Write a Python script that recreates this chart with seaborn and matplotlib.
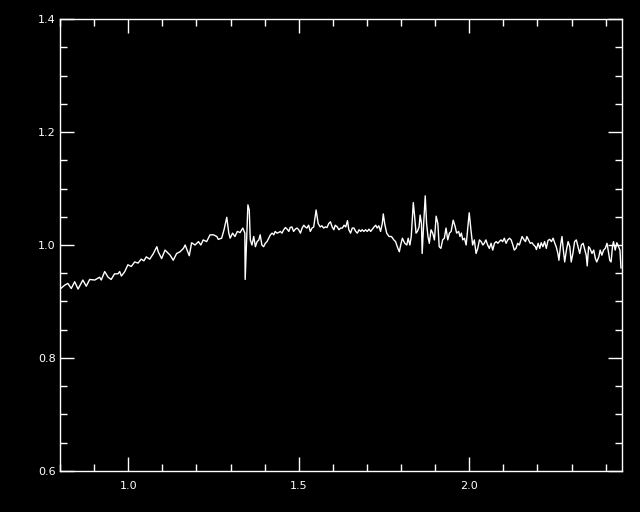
import matplotlib
matplotlib.use("Agg")
import matplotlib.pyplot as plt
from matplotlib.ticker import MultipleLocator
import seaborn as sns

# spectrum (wavelength, normalised flux)
wave = [
    0.802, 0.814, 0.823, 0.833, 0.843, 0.853, 0.867, 0.877, 0.887, 0.902,
    0.916, 0.921, 0.931, 0.941, 0.950, 0.960, 0.970, 0.975, 0.980, 0.990,
    0.999, 1.009, 1.019, 1.029, 1.038, 1.046, 1.053, 1.063, 1.073, 1.084,
    1.088, 1.098, 1.108, 1.118, 1.123, 1.132, 1.142, 1.152, 1.162, 1.167,
    1.172, 1.179, 1.186, 1.196, 1.206, 1.213, 1.220, 1.230, 1.240, 1.250,
    1.260, 1.264, 1.274, 1.281, 1.289, 1.295, 1.299, 1.306, 1.313, 1.320,
    1.328, 1.336, 1.342, 1.343, 1.351, 1.355, 1.358, 1.363, 1.368, 1.373,
    1.378, 1.383, 1.387, 1.392, 1.397, 1.402, 1.407, 1.412, 1.417, 1.422,
    1.427, 1.431, 1.436, 1.441, 1.446, 1.451, 1.456, 1.461, 1.466, 1.471,
    1.475, 1.480, 1.485, 1.490, 1.495, 1.500, 1.505, 1.510, 1.515, 1.519,
    1.524, 1.529, 1.534, 1.539, 1.544, 1.551, 1.557, 1.563, 1.568, 1.573,
    1.578, 1.583, 1.588, 1.593, 1.598, 1.603, 1.607, 1.613, 1.618, 1.623,
    1.628, 1.633, 1.638, 1.643, 1.647, 1.652, 1.657, 1.662, 1.667, 1.672,
    1.677, 1.682, 1.686, 1.691, 1.696, 1.701, 1.706, 1.711, 1.721, 1.726,
    1.730, 1.735, 1.740, 1.745, 1.748, 1.752, 1.758, 1.765, 1.772, 1.779,
    1.784, 1.789, 1.795, 1.799, 1.804, 1.811, 1.817, 1.821, 1.826, 1.830,
    1.836, 1.840, 1.844, 1.848, 1.853, 1.856, 1.860, 1.862, 1.867, 1.871,
    1.875, 1.879, 1.883, 1.888, 1.893, 1.898, 1.903, 1.908, 1.912, 1.917,
    1.922, 1.927, 1.932, 1.937, 1.942, 1.947, 1.953, 1.959, 1.963, 1.969,
    1.973, 1.977, 1.981, 1.986, 1.991, 1.996, 2.000, 2.005, 2.010, 2.015,
    2.020, 2.025, 2.030, 2.035, 2.040, 2.044, 2.049, 2.054, 2.059, 2.064,
    2.069, 2.074, 2.079, 2.084, 2.088, 2.093, 2.098, 2.103, 2.108, 2.113,
    2.118, 2.123, 2.128, 2.132, 2.137, 2.142, 2.147, 2.155, 2.161, 2.165,
    2.169, 2.174, 2.179, 2.184, 2.189, 2.194, 2.197, 2.202, 2.207, 2.211,
    2.216, 2.221, 2.226, 2.231, 2.236, 2.241, 2.246, 2.251, 2.255, 2.260,
    2.263, 2.268, 2.272, 2.276, 2.280, 2.285, 2.290, 2.295, 2.299, 2.304,
    2.309, 2.314, 2.319, 2.324, 2.329, 2.334, 2.339, 2.343, 2.346, 2.350,
    2.354, 2.360, 2.365, 2.370, 2.374, 2.380, 2.384, 2.389, 2.394, 2.399,
    2.404, 2.409, 2.412, 2.416, 2.420, 2.423, 2.428, 2.433, 2.438, 2.442,
    2.445,
]
flux = [
    0.923, 0.929, 0.932, 0.923, 0.935, 0.922, 0.938, 0.927, 0.939, 0.938,
    0.943, 0.938, 0.953, 0.943, 0.939, 0.949, 0.949, 0.953, 0.945, 0.953,
    0.965, 0.962, 0.970, 0.968, 0.975, 0.972, 0.979, 0.975, 0.984, 0.997,
    0.988, 0.976, 0.991, 0.985, 0.982, 0.973, 0.985, 0.988, 0.994, 1.000,
    0.992, 0.981, 1.004, 1.000, 1.006, 1.000, 1.009, 1.006, 1.018, 1.018,
    1.015, 1.010, 1.012, 1.027, 1.049, 1.021, 1.012, 1.021, 1.015, 1.024,
    1.022, 1.030, 1.021, 0.939, 1.071, 1.062, 1.009, 1.000, 1.015, 0.997,
    1.006, 1.009, 1.018, 1.000, 0.997, 1.003, 1.006, 1.012, 1.018, 1.021,
    1.018, 1.024, 1.021, 1.022, 1.024, 1.021, 1.027, 1.031, 1.028, 1.024,
    1.031, 1.032, 1.024, 1.028, 1.030, 1.027, 1.021, 1.030, 1.035, 1.032,
    1.030, 1.035, 1.024, 1.030, 1.032, 1.062, 1.038, 1.032, 1.034, 1.030,
    1.032, 1.031, 1.038, 1.041, 1.032, 1.027, 1.035, 1.032, 1.027, 1.030,
    1.030, 1.035, 1.032, 1.043, 1.027, 1.021, 1.030, 1.030, 1.024, 1.021,
    1.027, 1.024, 1.027, 1.024, 1.027, 1.024, 1.028, 1.024, 1.032, 1.035,
    1.030, 1.034, 1.024, 1.038, 1.055, 1.038, 1.021, 1.015, 1.015, 1.009,
    1.006, 0.997, 0.988, 1.000, 1.012, 1.003, 1.000, 1.012, 1.000, 1.015,
    1.075, 1.050, 1.021, 1.024, 1.032, 1.053, 1.038, 0.985, 1.044, 1.087,
    1.038, 1.015, 1.003, 1.027, 1.021, 1.009, 1.051, 1.038, 0.997, 0.994,
    1.009, 1.012, 1.030, 1.009, 1.021, 1.024, 1.044, 1.032, 1.021, 1.024,
    1.015, 1.021, 1.009, 1.012, 1.000, 1.032, 1.057, 1.027, 1.000, 1.009,
    0.985, 0.994, 1.009, 1.006, 1.000, 1.003, 1.009, 1.000, 0.994, 1.003,
    0.991, 1.003, 1.006, 1.003, 1.006, 1.009, 1.006, 1.012, 1.003, 1.009,
    1.012, 1.009, 1.000, 0.991, 0.994, 1.003, 1.000, 1.015, 1.009, 1.006,
    1.015, 1.009, 1.003, 1.004, 1.000, 0.997, 0.992, 1.003, 0.994, 1.004,
    0.997, 1.006, 0.994, 1.008, 1.010, 1.006, 1.012, 1.003, 0.997, 0.985,
    0.973, 1.000, 1.015, 0.991, 0.970, 0.991, 1.006, 0.997, 0.970, 0.985,
    1.006, 1.009, 0.997, 0.985, 1.000, 1.003, 0.991, 0.982, 0.963, 0.997,
    0.994, 0.985, 0.991, 0.976, 0.970, 0.979, 0.991, 0.982, 0.991, 0.994,
    1.003, 0.985, 0.973, 0.970, 0.997, 1.006, 0.991, 1.004, 0.997, 0.991,
    0.959,
]

sns.set_style("ticks")
plt.rcParams.update({
    "figure.facecolor": "black",
    "axes.facecolor": "black",
    "axes.edgecolor": "white",
    "xtick.color": "white",
    "ytick.color": "white",
    "font.family": ["DejaVu Sans"],
})

fig = plt.figure(figsize=(6.4, 5.12), dpi=100)
ax = fig.add_axes([60 / 640, 41 / 512, 562 / 640, 452 / 512])

sns.lineplot(x=wave, y=flux, ax=ax, color="white", linewidth=1.0,
             estimator=None, sort=False)

ax.set_xlim(0.8, 2.448)
ax.set_ylim(0.6, 1.4)
ax.xaxis.set_major_locator(MultipleLocator(0.5))
ax.xaxis.set_minor_locator(MultipleLocator(0.1))
ax.yaxis.set_major_locator(MultipleLocator(0.2))
ax.yaxis.set_minor_locator(MultipleLocator(0.05))
ax.xaxis.set_major_formatter(plt.FormatStrFormatter("%.1f"))
ax.yaxis.set_major_formatter(plt.FormatStrFormatter("%.1f"))

for s in ax.spines.values():
    s.set_color("white")
    s.set_linewidth(1.0)
ax.tick_params(which="both", direction="in", top=True, right=True,
               colors="white", labelsize=8, width=1.0)
ax.tick_params(which="major", length=10)
ax.tick_params(which="minor", length=5)
ax.tick_params(axis="y", which="major", pad=3)
ax.tick_params(axis="x", which="major", pad=7)
ax.set_xlabel("")
ax.set_ylabel("")

fig.savefig("out.png", dpi=100, facecolor="black")
